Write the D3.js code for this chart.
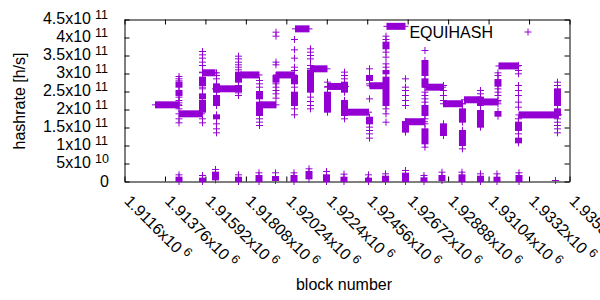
<!DOCTYPE html>
<html>
<head>
<meta charset="utf-8">
<script src="https://cdn.jsdelivr.net/npm/d3@7"></script>
<style>
  body { margin: 0; background: #fff; }
  text { font-family: "Liberation Sans", Arial, sans-serif; fill: #000; }
</style>
</head>
<body>
<div class="hash-holder"></div>
<script>
// x tick positions (block numbers) and their labels (mantissa x10^6)
var xTicks = [1911600, 1913760, 1915920, 1918080, 1920240, 1922400, 1924560, 1926720, 1928880, 1931040, 1933200, 1935360];
var xTickMant = ["1.9116", "1.91376", "1.91592", "1.91808", "1.92024", "1.9224", "1.92456", "1.92672", "1.92888", "1.93104", "1.9332", "1.93536"];

// y ticks in GH/s, labels as mantissa x10^exp
var yTicks = [0, 50, 100, 150, 200, 250, 300, 350, 400, 450];
var yTickMant = ["0", "5", "1", "1.5", "2", "2.5", "3", "3.5", "4", "4.5"];
var yTickExp = ["", "10", "11", "11", "11", "11", "11", "11", "11", "11"];

// long flat runs of blocks: [first block, last block, hashrate GH/s]
var plateaus = [
  [1913255, 1914483, 213], [1914510, 1915711, 188], [1915764, 1916432, 302],
  [1916458, 1917606, 257.5], [1917793, 1918781, 296], [1918808, 1919689, 213],
  [1919715, 1920623, 296], [1920730, 1921451, 424], [1921531, 1922412, 313],
  [1922465, 1923399, 264], [1923453, 1924628, 192.5], [1924707, 1925535, 266],
  [1925615, 1926576, 431], [1926630, 1927617, 166], [1927697, 1928578, 262],
  [1928631, 1929645, 216], [1929753, 1930634, 227], [1930660, 1931514, 221],
  [1931595, 1932583, 321], [1932663, 1934772, 185]
];

// scattered blocks at each step: single points and dense [lo, hi] stacks (GH/s)
var columns = [
  {block: 1914510, pts: [291.7, 285.2, 279.6, 234.3, 225, 218.5, 211.1, 201.8, 174.1, 163], runs: [[262, 276], [239, 253]]},
  {block: 1915764, pts: [361.1, 351.8, 342.6, 331.5, 322.2, 303.7, 262, 257.4, 174.1, 163], runs: [[266.7, 289.8], [229.6, 243.5], [192.6, 225]]},
  {block: 1916512, pts: [301.8, 294.4, 285.2, 160.2, 146.3, 135.2], runs: [[248.1, 271.3], [211.1, 238.9], [174.1, 185.2]]},
  {block: 1917686, pts: [348.1, 340.7, 331.5, 324.1, 317.6, 310.2, 246.3, 238.9], runs: [[275.9, 303.7], [250, 266.7]]},
  {block: 1918808, pts: [280.6, 271.3, 262, 174.1, 164.8, 155.6], runs: [[229.6, 250], [183.3, 220.4]]},
  {block: 1919689, pts: [414.8, 403.7, 331.5, 324.1, 271.3, 262, 252.8, 243.5, 231.5], runs: [[275.9, 294.4]]},
  {block: 1920676, pts: [394.4, 365.7, 342.6, 317.6, 308.3, 262, 201.8, 185.2], runs: [[271.3, 294.4], [211.1, 248.1]]},
  {block: 1921531, pts: [368.5, 359.2, 350, 340.7, 322.2, 313, 234.3, 222.2, 211.1, 201.8], runs: [[248.1, 308.3]]},
  {block: 1922438, pts: [275.9, 262], runs: [[192.6, 248.1]]},
  {block: 1923346, pts: [303.7, 294.4, 285.2, 174.1], runs: [[248.1, 275.9], [183.3, 225]]},
  {block: 1924681, pts: [313, 271.3, 229.6, 151, 141.7, 132.4, 120.4], runs: [[280.6, 294.4], [160.2, 178.7]]},
  {block: 1925562, pts: [403.7, 394.4, 359.2, 345.4, 326.8, 317.6, 201.8, 188, 164.8], runs: [[368.5, 387], [299.1, 308.3], [211.1, 289.8]]},
  {block: 1926602, pts: [285.2, 262, 252.8, 238.9, 225, 211.1], runs: [[137.1, 166.7]]},
  {block: 1927643, pts: [363.9, 248.1, 238.9, 229.6, 220.4, 174.1, 160.2, 95.4], runs: [[294.4, 336.1], [262, 285.2], [183.3, 211.1], [104.6, 146.3]]},
  {block: 1928631, pts: [266.7, 252.8, 238.9, 225], runs: [[127.8, 160.2]]},
  {block: 1929645, pts: [215.8, 90.7], runs: [[164.8, 201.8], [100, 141.7]]},
  {block: 1930607, pts: [252.8, 243.5], runs: [[211.1, 234.3], [150.9, 197.2]]},
  {block: 1931541, pts: [301.8, 294.4, 257.4, 248.1, 238.9, 225, 215.8], runs: [[264.8, 283.3], [181.5, 194.4]]},
  {block: 1932636, pts: [322.2, 308.3, 299.1, 266.7, 252.8, 238.9, 220.4, 206.5, 174.1, 132.4], runs: [[141.7, 164.8], [107.4, 120.4]]},
  {block: 1934718, pts: [275.9, 266.7, 174.1, 164.8, 155.6, 146.3, 135.2], runs: [[211.1, 257.4], [183.3, 201.8]]}
];

// near-zero readings: dense stacks [block, lo, hi] and the top outlier of each
var lowRuns = [
  [1914510, 0, 12], [1915764, 0, 9.3], [1916458, 4.6, 26], [1917686, 0, 12], [1918781, 0, 16.7],
  [1919662, 2.8, 13.9], [1920650, 0, 16.7], [1921451, 7.4, 27.8], [1922385, 0, 18.5], [1923319, 0, 12],
  [1924627, 0, 9.3], [1925535, 0, 14.8], [1926603, 0, 23.1], [1927590, 0, 10.2], [1928551, 2.8, 16.7],
  [1929619, 0, 18.5], [1930607, 0, 14.8], [1931488, 0, 12], [1932663, 0, 16.7]
];
var lowTops = [
  [1914510, 18.5], [1915764, 16.7], [1916458, 33.4], [1917686, 18.5], [1918781, 24.1],
  [1919662, 24.1], [1920650, 24.1], [1921451, 35.2], [1922385, 27.8], [1923319, 20.4],
  [1924627, 18.5], [1925535, 21.3], [1926603, 30.6], [1927590, 16.7], [1928551, 25.9],
  [1929619, 25.9], [1930607, 21.3], [1931488, 21.3], [1932663, 24.1], [1934611, 2.8]
];

var width = 600, height = 300;
var plot = {left: 124.5, right: 569.5, top: 19.5, bottom: 181.5};
var purple = "#9400d3";
var arm = 3.5; // half size of the "+" marker
var fs = "16px", fsSup = "12.5px";

var scaleX = d3.scaleLinear().domain([1911600, 1935360]).range([plot.left, plot.right]);
var scaleY = d3.scaleLinear().domain([0, 450]).range([plot.bottom, plot.top]);

var svg = d3.select(".hash-holder").append("svg")
  .attr("width", width).attr("height", height);

/* frame with inward ticks on all four sides */
svg.append("g").attr("transform", `translate(0, ${plot.bottom})`)
  .call(d3.axisBottom(scaleX).tickValues(xTicks).tickSizeInner(-5).tickSizeOuter(0).tickFormat(""));
svg.append("g").attr("transform", `translate(0, ${plot.top})`)
  .call(d3.axisTop(scaleX).tickValues(xTicks).tickSizeInner(-5).tickSizeOuter(0).tickFormat(""));
svg.append("g").attr("transform", `translate(${plot.left}, 0)`)
  .call(d3.axisLeft(scaleY).tickValues(yTicks).tickSizeInner(-5).tickSizeOuter(0).tickFormat(""));
svg.append("g").attr("transform", `translate(${plot.right}, 0)`)
  .call(d3.axisRight(scaleY).tickValues(yTicks).tickSizeInner(-5).tickSizeOuter(0).tickFormat(""));
svg.selectAll(".domain, .tick line").attr("stroke", "#000").attr("stroke-width", 1);

/* y tick labels: mantissa "x10" plus superscript */
yTicks.forEach(function(t, i) {
  var yy = scaleY(t);
  if (yTickExp[i] === "") {
    svg.append("text").attr("x", 109).attr("y", yy + 5)
      .attr("text-anchor", "end").style("font-size", fs).text(yTickMant[i]);
    return;
  }
  svg.append("text").attr("x", 91).attr("y", yy + 4.5)
    .attr("text-anchor", "end").style("font-size", fs).text(yTickMant[i] + "x10");
  svg.append("text").attr("x", 95).attr("y", yy - 1)
    .style("font-size", fsSup).text(yTickExp[i]);
});

/* x tick labels, rotated down to the right */
xTicks.forEach(function(t, i) {
  var lbl = svg.append("text")
    .attr("transform", `translate(${scaleX(t) - 1}, 202) rotate(45)`)
    .style("font-size", fs);
  lbl.append("tspan").text(xTickMant[i] + "x10");
  lbl.append("tspan").attr("dx", 4).attr("dy", -6).style("font-size", fsSup).text("6");
});

/* axis titles */
svg.append("text").attr("transform", `translate(25, 101) rotate(-90)`)
  .attr("text-anchor", "middle").style("font-size", fs).text("hashrate [h/s]");
svg.append("text").attr("x", 344).attr("y", 290)
  .attr("text-anchor", "middle").style("font-size", fs).text("block number");

var marks = svg.append("g").attr("class", "marks");
var plus = `M${-arm},0H${arm}M0,${-arm}V${arm}`;

function drawPoint(b, v) {
  marks.append("path")
    .attr("transform", `translate(${scaleX(b)}, ${scaleY(v)})`)
    .attr("d", plus).attr("stroke", purple).attr("fill", "none");
}

// vertical stack of many "+" at one block
function drawStack(b, lo, hi) {
  var cx = scaleX(b), y0 = scaleY(hi), y1 = scaleY(lo);
  marks.append("rect").attr("x", cx - arm).attr("y", y0 - 0.5)
    .attr("width", 2 * arm).attr("height", y1 - y0 + 1).attr("fill", purple);
  marks.append("line").attr("x1", cx).attr("x2", cx).attr("y1", y0 - arm).attr("y2", y1 + arm)
    .attr("stroke", purple);
}

// horizontal run of many "+" at one hashrate
plateaus.forEach(function(p) {
  var x0 = scaleX(p[0]), x1 = scaleX(p[1]), cy = scaleY(p[2]);
  marks.append("rect").attr("x", x0 - 0.5).attr("y", cy - arm)
    .attr("width", x1 - x0 + 1).attr("height", 2 * arm).attr("fill", purple);
  marks.append("line").attr("x1", x0 - arm).attr("x2", x1 + arm).attr("y1", cy).attr("y2", cy)
    .attr("stroke", purple);
});

columns.forEach(function(c) {
  c.runs.forEach(function(r) { drawStack(c.block, r[0], r[1]); });
  c.pts.forEach(function(v) { drawPoint(c.block, v); });
});
lowRuns.forEach(function(r) { drawStack(r[0], r[1], r[2]); });
lowTops.forEach(function(p) { drawPoint(p[0], p[1]); });

/* legend */
svg.append("text").attr("x", 493).attr("y", 37.5).attr("text-anchor", "end")
  .style("font-size", fs).text("EQUIHASH");
svg.append("path").attr("transform", "translate(528, 32)")
  .attr("d", plus).attr("stroke", purple).attr("fill", "none");
</script>
</body>
</html>
